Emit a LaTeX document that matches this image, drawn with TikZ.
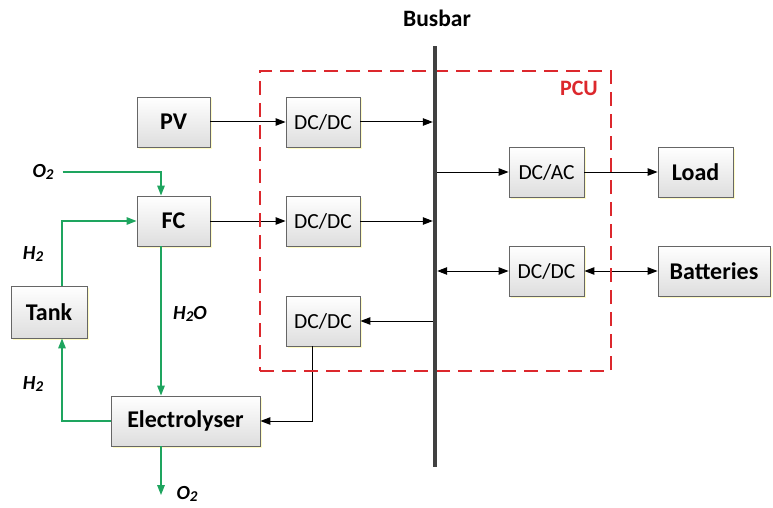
\documentclass[tikz,border=0pt]{standalone}
\usepackage{fontspec}
\setmainfont{Carlito}
\usetikzlibrary{arrows.meta,shadows,calc}
\definecolor{flow}{RGB}{30,165,95}
\definecolor{pcured}{RGB}{220,40,45}
\definecolor{busgray}{RGB}{65,65,65}
\newcommand\mysub[1]{\raisebox{-0.2ex}{\fontsize{15}{16}\selectfont #1}}
\begin{document}
\begin{tikzpicture}[x=1pt,y=-1pt,
  box/.style={draw=black!60, line width=0.9pt, top color=white, bottom color=black!13,
    minimum height=50pt, inner sep=0pt, font=\fontsize{21.5}{24}\selectfont,
    drop shadow={shadow xshift=1.5pt, shadow yshift=-1.5pt, fill=yellow!45, opacity=0.5}},
  bbox/.style={box, font=\bfseries\fontsize{24}{27}\selectfont},
  conn/.style={-{Triangle[length=10pt,width=7.5pt]}, line width=1pt, black},
  biconn/.style={{Triangle[length=10pt,width=7.5pt]}-{Triangle[length=10pt,width=7.5pt]}, line width=1pt, black},
  gconn/.style={-{Triangle[length=10pt,width=7.5pt]}, line width=1.5pt, flow},
  lbl/.style={font=\bfseries\itshape\fontsize{20}{22}\selectfont, inner sep=1pt}]
\useasboundingbox (0,0) rectangle (773,508);
% boxes
\node[bbox, minimum width=73pt] (pv) at (173.5,122) {PV};
\node[bbox, minimum width=73pt] (fc) at (173.5,221) {FC};
\node[bbox, minimum width=76pt, minimum height=52pt] (tank) at (49,312) {Tank};
\node[bbox, minimum width=149pt] (ely) at (185.5,421) {Electrolyser};
\node[box, minimum width=74pt] (dc1) at (323,122) {DC/DC};
\node[box, minimum width=74pt] (dc2) at (323,221) {DC/DC};
\node[box, minimum width=74pt] (dc3) at (323,321) {DC/DC};
\node[box, minimum width=75pt] (dcac) at (546.5,172) {DC/AC};
\node[box, minimum width=75pt] (dc4) at (546.5,271) {DC/DC};
\node[bbox, minimum width=75pt] (load) at (695.5,172) {Load};
\node[bbox, minimum width=112pt] (bat) at (714,271) {Batteries};
% busbar node
\node[fill=busgray, minimum width=4pt, minimum height=421pt, inner sep=0pt] (bus) at (435,256.5) {};
\node[font=\bfseries\fontsize{23.5}{26}\selectfont] (buslbl) at (437,18) {Busbar};
% black connectors
\draw[conn] (pv) -- (dc1);
\draw[conn] (fc) -- (dc2);
\draw[conn] (dc1.east) -- (dc1.east -| bus.west);
\draw[conn] (dc2.east) -- (dc2.east -| bus.west);
\draw[conn] (bus.west |- dc3.east) -- (dc3.east);
\draw[conn] (bus.east |- dcac.west) -- (dcac.west);
\draw[biconn] (bus.east |- dc4.west) -- (dc4.west);
\draw[conn] (dcac) -- (load);
\draw[biconn] (dc4) -- (bat);
\coordinate (d3s) at ($(dc3.south)+(-11,0)$);
\draw[conn] (d3s) |- (ely.east);
% labels
\node[lbl] (o2a) at (43,172) {O\mysub{2}};
\node[lbl] (h2a) at (33,254) {H\mysub{2}};
\node[lbl] (h2o) at (190,314) {H\mysub{2}O};
\node[lbl] (h2b) at (33,384) {H\mysub{2}};
\node[lbl] (o2b) at (187,494) {O\mysub{2}};
% green flows
\coordinate (fcin) at ($(fc.north)+(-12.5,0)$);
\draw[gconn, shorten <=8pt] (o2a.east) -| (fcin);
\draw[gconn] ($(tank.north)+(13,0)$) |- (fc.west);
\coordinate (h2otop) at ($(fc.south)+(-12.5,0)$);
\draw[gconn] (h2otop) -- (h2otop |- ely.north);
\draw[gconn] (ely.west) -| ($(tank.south)+(13,0)$);
\coordinate (o2end) at (161,495);
\draw[gconn] (o2end |- ely.south) -- (o2end);
% PCU
\node[draw=pcured, dash pattern=on 14pt off 8pt, line width=2.4pt, minimum width=351pt, minimum height=300pt, inner sep=0pt] (pcu) at (435.5,221) {};
\node[text=pcured, font=\bfseries\fontsize{22}{25}\selectfont] (pculbl) at (579,88) {PCU};
% busbar on top
\fill[busgray] (bus.north west) rectangle (bus.south east);
\end{tikzpicture}
\end{document}
